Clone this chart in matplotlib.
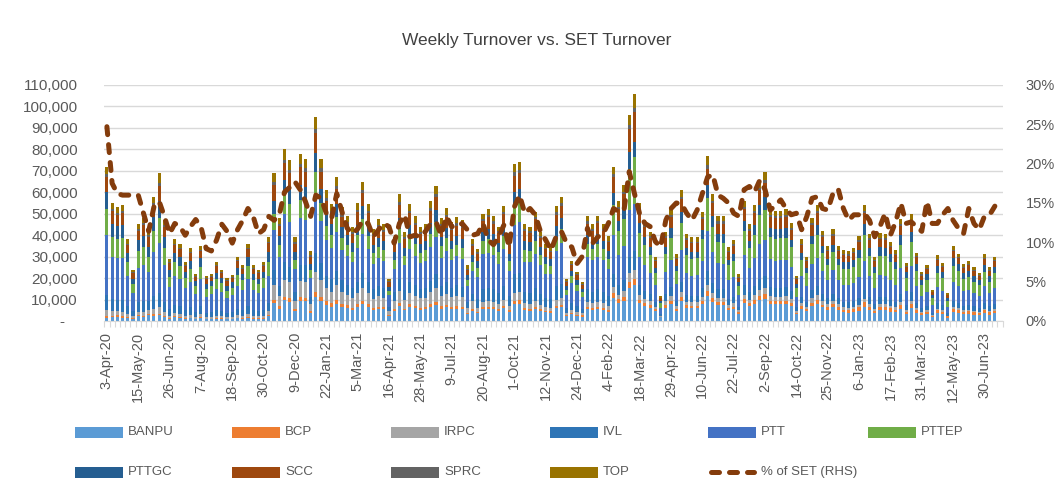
import numpy as np
import matplotlib
matplotlib.use("Agg")
import matplotlib.pyplot as plt
from matplotlib.patches import Rectangle
from matplotlib.lines import Line2D
from matplotlib.ticker import FuncFormatter

plt.rcParams['font.family'] = ['Liberation Sans', 'DejaVu Sans']

# weekly turnover per stock, in thousands
banpu = [1.5, 1.8, 2.0, 1.6, 1.5, 1.0, 2.2, 2.0, 3.0, 2.5, 2.6, 1.9, 1.0, 1.8, 1.4, 1.0, 1.3, 0.9, 1.5, 0.8, 0.9, 1.1, 1.0, 0.8, 0.9, 1.2, 1.0, 1.5, 1.0, 1.0, 1.1, 2.5,
         8.3, 5.8, 9.6, 9.0, 4.7, 9.4, 9.1, 3.9, 11.4, 9.1, 7.3, 6.6, 8.0, 6.4, 5.9, 5.3, 6.6, 7.8, 6.6, 5.2, 5.7, 5.4, 2.4, 4.7, 7.1, 5.0, 6.6, 5.9, 5.3, 5.4, 6.7, 7.6, 5.8, 6.3, 5.5, 5.8, 5.6, 3.1, 4.6,
         3.7, 5.5, 5.7, 5.4, 4.8, 5.9, 4.2, 8.0, 8.1, 5.0, 4.8, 5.6, 4.6, 4.0, 3.8, 5.9, 6.4, 2.2, 3.1, 2.5, 2.0, 5.4, 5.0, 5.4, 5.0, 4.3,
         10.8, 8.4, 9.5, 15.4, 16.6, 8.3, 7.1, 6.2, 4.5, 1.7, 6.2, 7.8, 4.7, 9.2, 6.1, 5.9, 5.9, 7.7, 11.6, 8.9, 7.3, 7.3, 5.2, 5.6, 3.3, 8.4, 6.8, 8.1, 9.8, 10.4, 7.8, 7.7, 7.7, 7.8, 6.9, 3.2, 5.7, 4.5, 7.2, 8.1, 6.3, 5.3, 6.4, 5.3,
         4.0, 3.9, 4.1, 4.8, 6.5, 4.9, 3.6, 4.9, 4.9, 4.4, 4.0, 5.7, 3.2, 6.0, 3.8, 2.7, 3.1, 1.7, 3.7, 3.2, 1.6, 4.2, 3.8, 3.2, 3.4, 3.0, 2.7, 3.7, 3.0, 3.6]
bcp = [0.7, 0.5, 0.6, 0.5, 0.4, 0.3, 0.4, 0.5, 0.4, 0.6, 0.7, 0.5, 0.3, 0.4, 0.4, 0.3, 0.3, 0.2, 0.4, 0.2, 0.2, 0.3, 0.3, 0.2, 0.2, 0.3, 0.3, 0.4, 0.3, 0.2, 0.3, 0.4,
       1.4, 1.0, 1.6, 1.5, 0.8, 1.6, 1.5, 0.7, 1.9, 2.3, 1.8, 1.6, 2.0, 1.6, 1.5, 0.9, 1.1, 1.3, 1.1, 0.9, 1.0, 0.9, 0.4, 0.8, 1.2, 0.8, 1.1, 1.0, 0.9, 0.9, 1.1, 1.3, 1.0, 1.1, 0.9, 1.0, 0.9, 0.5, 0.8,
       0.7, 1.0, 1.0, 1.0, 0.9, 1.1, 0.8, 1.5, 1.5, 0.9, 0.9, 1.0, 0.8, 0.7, 0.7, 1.1, 1.2, 0.4, 0.6, 0.5, 0.6, 1.0, 0.9, 1.0, 0.9, 0.8,
       2.2, 1.7, 1.9, 3.0, 3.2, 1.7, 1.4, 1.2, 0.9, 0.3, 1.2, 1.6, 0.9, 1.8, 1.2, 1.2, 1.2, 1.5, 2.3, 1.8, 1.5, 1.5, 1.0, 1.1, 0.7, 1.7, 1.4, 1.6, 2.0, 2.1, 1.6, 1.5, 1.5, 1.6, 1.4, 0.6, 1.1, 0.9, 1.4, 1.6, 1.3, 1.1, 1.3, 1.1,
       1.3, 1.3, 1.4, 1.6, 2.2, 1.6, 1.2, 1.6, 1.6, 1.5, 1.3, 1.9, 1.1, 2.0, 1.3, 0.9, 1.0, 0.6, 1.2, 1.1, 0.5, 1.4, 1.3, 1.1, 1.1, 1.0, 0.9, 1.2, 1.0, 1.2]
irpc = [2.9, 2.5, 2.0, 2.2, 1.5, 1.0, 1.8, 1.9, 1.7, 2.6, 3.0, 1.9, 1.2, 1.5, 1.4, 1.1, 1.4, 0.9, 1.4, 0.8, 0.9, 1.1, 1.0, 0.8, 0.9, 1.2, 1.0, 1.4, 1.0, 1.0, 1.1, 1.6,
        6.9, 4.8, 8.0, 7.5, 3.9, 7.8, 7.6, 3.3, 9.5, 7.6, 6.1, 5.5, 6.7, 5.3, 4.9, 4.4, 5.5, 6.5, 5.5, 4.3, 4.8, 4.5, 2.0, 3.9, 5.9, 4.2, 5.5, 4.9, 4.4, 4.5, 5.6, 6.3, 4.8, 5.3, 4.6, 4.8, 4.7, 2.6, 3.8,
        1.7, 2.5, 2.6, 2.4, 2.2, 2.7, 1.9, 3.7, 3.7, 2.3, 2.2, 2.6, 2.1, 1.8, 1.7, 2.7, 2.9, 1.0, 1.4, 1.2, 0.9, 2.4, 2.3, 2.5, 2.3, 2.0,
        2.9, 2.2, 2.5, 3.8, 4.2, 2.2, 1.9, 1.7, 1.2, 0.5, 1.7, 2.1, 1.2, 2.4, 1.6, 1.6, 1.6, 2.0, 3.1, 2.4, 2.0, 2.0, 1.4, 1.5, 0.9, 2.2, 1.8, 2.2, 2.6, 2.8, 2.1, 2.1, 2.1, 2.1, 1.8, 0.8, 1.5, 1.2, 1.9, 2.2, 1.7, 1.4, 1.7, 1.4,
        1.0, 1.0, 1.0, 1.2, 1.6, 1.2, 0.9, 1.2, 1.2, 1.1, 1.0, 1.4, 0.8, 1.5, 1.0, 0.7, 0.8, 0.4, 0.9, 0.8, 0.4, 1.1, 0.9, 0.8, 0.8, 0.8, 0.7, 0.9, 0.8, 0.9]
ivl = [7.2, 5.5, 5.3, 5.4, 3.8, 2.4, 4.5, 4.8, 4.2, 5.8, 6.9, 4.7, 2.9, 3.8, 3.6, 2.8, 3.4, 2.2, 3.5, 2.1, 2.2, 2.8, 2.4, 2.0, 2.2, 3.0, 2.6, 3.6, 2.6, 2.4, 2.8, 3.9,
       7.2, 4.5, 8.4, 7.1, 4.1, 7.5, 7.9, 3.1, 9.0, 8.0, 5.8, 5.8, 6.4, 5.6, 4.7, 4.6, 5.2, 6.8, 5.2, 4.5, 4.6, 4.7, 1.9, 4.1, 5.6, 4.4, 5.2, 5.1, 4.2, 4.7, 5.3, 6.6, 4.6, 5.5, 4.4, 5.0, 4.5, 2.7, 3.6,
       4.0, 6.0, 6.2, 5.9, 5.3, 6.4, 4.6, 8.8, 8.9, 5.4, 5.3, 6.1, 5.0, 4.3, 4.1, 6.4, 6.9, 2.4, 3.4, 2.8, 2.2, 5.9, 5.4, 5.9, 5.4, 4.7,
       5.8, 4.5, 5.1, 7.7, 8.5, 4.4, 3.8, 3.3, 2.4, 0.9, 3.3, 4.2, 2.5, 4.9, 3.3, 3.1, 3.1, 4.1, 6.2, 4.7, 3.9, 3.9, 2.8, 3.0, 1.7, 4.5, 3.6, 4.3, 5.2, 5.6, 4.2, 4.1, 4.1, 4.2, 3.7, 1.7, 3.0, 2.4, 3.8, 4.3, 3.4, 2.8, 3.4, 2.8,
       2.6, 2.6, 2.7, 3.2, 4.3, 3.3, 2.4, 3.3, 3.3, 2.9, 2.6, 3.8, 2.2, 4.0, 2.5, 1.8, 2.1, 1.1, 2.4, 2.2, 1.0, 2.8, 2.5, 2.1, 2.2, 2.0, 1.8, 2.5, 2.0, 2.4]
ptt = [27.6, 19.5, 19.5, 19.8, 13.8, 8.3, 16.0, 16.9, 13.6, 20.6, 23.3, 17.1, 10.3, 13.6, 12.7, 10.0, 12.0, 8.2, 12.6, 7.4, 8.2, 9.5, 8.7, 7.0, 7.7, 10.5, 9.6, 12.6, 9.6, 8.4, 10.0, 12.7,
       18.5, 13.8, 22.2, 21.0, 10.8, 21.7, 21.1, 9.0, 27.3, 19.6, 16.6, 14.6, 18.2, 14.1, 13.2, 12.3, 15.4, 18.1, 15.3, 11.9, 13.2, 12.5, 5.3, 10.8, 16.5, 11.5, 15.3, 13.5, 12.3, 12.5, 15.8, 17.4, 13.3, 14.5, 12.9, 13.5, 13.3, 7.3, 10.5,
       10.5, 16.4, 16.4, 15.9, 13.6, 17.5, 11.8, 22.6, 24.1, 13.8, 14.4, 15.9, 13.6, 11.2, 11.4, 16.6, 18.9, 5.9, 9.1, 6.9, 5.6, 15.2, 14.6, 15.1, 14.6, 12.3,
       18.2, 13.8, 16.0, 21.8, 21.9, 13.4, 11.8, 10.2, 7.6, 2.8, 10.5, 12.7, 7.8, 15.0, 10.4, 9.4, 9.7, 12.6, 18.7, 14.4, 12.2, 12.0, 8.6, 9.3, 5.4, 13.9, 11.2, 13.3, 16.5, 17.0, 13.1, 12.7, 13.0, 12.8, 11.4, 5.1, 9.7, 7.4, 12.2, 13.3, 10.5, 8.5, 10.8, 8.5,
       8.1, 8.1, 8.4, 9.7, 13.4, 10.1, 7.5, 10.3, 10.1, 9.3, 8.1, 11.9, 6.8, 12.3, 7.9, 5.7, 6.6, 3.7, 7.7, 6.8, 3.1, 8.6, 7.9, 6.7, 7.0, 6.1, 5.7, 7.8, 6.1, 7.5]
pttep = [12.2, 9.4, 9.0, 9.2, 6.5, 4.1, 7.7, 8.2, 7.1, 9.9, 11.7, 8.0, 4.9, 6.5, 6.1, 4.7, 5.8, 3.7, 6.0, 3.6, 3.7, 4.7, 4.1, 3.4, 3.7, 5.1, 4.4, 6.1, 4.4, 4.1, 4.7, 6.6,
         7.6, 5.3, 8.8, 8.3, 4.3, 8.6, 8.3, 3.6, 10.5, 8.3, 6.7, 6.0, 7.4, 5.8, 5.4, 4.8, 6.1, 7.2, 6.0, 4.7, 5.2, 5.0, 2.2, 4.3, 6.5, 4.6, 6.0, 5.4, 4.8, 5.0, 6.2, 6.9, 5.3, 5.8, 5.1, 5.3, 5.2, 2.9, 4.2,
         4.2, 5.8, 6.4, 5.7, 5.5, 6.2, 4.7, 9.0, 8.7, 5.6, 5.1, 6.3, 4.8, 4.5, 4.0, 6.6, 6.7, 2.5, 3.2, 2.9, 2.1, 6.0, 5.2, 6.1, 5.2, 4.9,
         14.4, 11.2, 12.7, 19.2, 22.0, 11.0, 9.4, 8.3, 6.0, 2.3, 8.3, 10.4, 6.2, 12.2, 8.1, 7.8, 7.8, 10.2, 15.4, 11.8, 9.8, 9.8, 6.9, 7.5, 4.3, 11.2, 9.0, 10.8, 13.1, 13.9, 10.4, 10.3, 10.3, 10.4, 9.1, 4.2, 7.6, 6.0, 9.6, 10.8, 8.4, 7.0, 8.5, 7.0,
         7.3, 7.2, 7.5, 8.7, 11.9, 9.0, 6.6, 9.0, 9.0, 8.1, 7.3, 10.5, 5.9, 10.9, 7.0, 5.0, 5.7, 3.1, 6.7, 5.9, 2.9, 7.7, 6.9, 5.9, 6.2, 5.5, 4.9, 6.8, 5.5, 6.6]
pttgc = [7.9, 6.1, 5.8, 5.9, 4.2, 2.6, 5.0, 5.3, 4.6, 6.4, 7.6, 5.2, 3.2, 4.2, 4.0, 3.0, 3.7, 2.4, 3.9, 2.3, 2.4, 3.0, 2.6, 2.2, 2.4, 3.3, 2.9, 4.0, 2.9, 2.6, 3.0, 4.3,
         6.2, 4.3, 7.2, 6.8, 3.5, 7.0, 6.8, 2.9, 8.6, 6.8, 5.5, 4.9, 6.0, 4.8, 4.4, 4.0, 5.0, 5.9, 4.9, 3.9, 4.3, 4.1, 1.8, 3.5, 5.3, 3.7, 4.9, 4.4, 4.0, 4.1, 5.0, 5.7, 4.3, 4.7, 4.1, 4.4, 4.2, 2.3, 3.4,
         3.0, 4.5, 4.7, 4.4, 4.0, 4.8, 3.4, 6.6, 6.7, 4.1, 4.0, 4.6, 3.7, 3.2, 3.1, 4.8, 5.2, 1.8, 2.5, 2.1, 1.6, 4.4, 4.1, 4.4, 4.1, 3.5,
         5.5, 4.7, 4.9, 7.9, 7.0, 4.6, 3.6, 3.5, 2.3, 1.0, 3.2, 4.4, 2.4, 5.1, 3.1, 3.3, 3.0, 4.2, 6.0, 4.9, 3.8, 4.0, 2.7, 3.1, 1.7, 4.6, 3.5, 4.5, 5.1, 5.8, 4.0, 4.3, 4.0, 4.3, 3.6, 1.8, 2.9, 2.5, 3.7, 4.5, 3.3, 2.9, 3.3, 2.9,
         3.3, 3.3, 3.4, 4.0, 5.4, 4.1, 3.0, 4.1, 4.1, 3.7, 3.3, 4.8, 2.7, 5.0, 3.2, 2.3, 2.6, 1.4, 3.1, 2.7, 1.3, 3.5, 3.1, 2.7, 2.8, 2.5, 2.2, 3.1, 2.5, 3.0]
scc = [7.0, 5.8, 5.0, 5.6, 3.6, 2.6, 4.2, 5.0, 4.5, 5.5, 7.3, 4.4, 3.1, 3.5, 3.9, 2.6, 3.7, 2.0, 3.2, 2.3, 2.0, 3.0, 2.2, 2.2, 2.0, 3.3, 2.4, 3.9, 2.4, 2.6, 2.5, 4.2,
       7.4, 4.6, 7.8, 7.8, 3.8, 8.1, 7.3, 3.4, 9.2, 7.9, 6.3, 5.3, 7.0, 5.1, 5.1, 4.2, 5.7, 6.2, 5.7, 4.1, 5.0, 4.3, 2.1, 3.8, 6.2, 4.0, 5.7, 4.7, 4.6, 4.3, 5.8, 6.1, 5.0, 5.1, 4.8, 4.7, 4.9, 2.5, 4.0,
       3.5, 4.8, 5.4, 4.7, 4.6, 5.2, 3.9, 7.6, 7.1, 4.7, 4.2, 5.3, 4.0, 3.8, 3.3, 5.5, 5.5, 2.1, 2.7, 2.4, 1.7, 5.1, 4.3, 5.1, 4.3, 4.1,
       7.2, 5.6, 6.4, 10.5, 14.0, 5.5, 4.7, 4.2, 3.0, 1.2, 4.2, 5.2, 3.1, 6.1, 4.1, 3.9, 3.9, 5.1, 7.7, 5.9, 4.9, 4.9, 3.5, 3.8, 2.2, 5.6, 4.5, 5.4, 6.6, 6.9, 5.2, 5.2, 5.2, 5.2, 4.6, 2.1, 3.8, 3.0, 4.8, 5.4, 4.2, 3.5, 4.3, 3.5,
       3.0, 2.9, 3.1, 3.6, 4.9, 3.7, 2.7, 3.7, 3.7, 3.3, 3.0, 4.3, 2.4, 4.5, 2.9, 2.1, 2.3, 1.3, 2.8, 2.4, 1.2, 3.2, 2.8, 2.4, 2.5, 2.3, 2.0, 2.8, 2.3, 2.7]
sprc = [1.4, 1.1, 1.1, 1.1, 0.8, 0.5, 0.9, 1.0, 0.8, 1.2, 1.4, 0.9, 0.6, 0.8, 0.7, 0.6, 0.7, 0.4, 0.7, 0.4, 0.4, 0.6, 0.5, 0.4, 0.4, 0.6, 0.5, 0.7, 0.5, 0.5, 0.6, 0.8,
        1.4, 1.0, 1.6, 1.5, 0.8, 1.6, 1.5, 0.7, 1.9, 1.5, 1.2, 1.1, 1.3, 1.1, 1.0, 0.9, 1.1, 1.3, 1.1, 0.9, 1.0, 0.9, 0.4, 0.8, 1.2, 0.8, 1.1, 1.0, 0.9, 0.9, 1.1, 1.3, 1.0, 1.1, 0.9, 1.0, 0.9, 0.5, 0.8,
        0.7, 1.0, 1.0, 1.0, 0.9, 1.1, 0.8, 1.5, 1.5, 0.9, 0.9, 1.0, 0.8, 0.7, 0.7, 1.1, 1.2, 0.4, 0.6, 0.5, 0.4, 1.0, 0.9, 1.0, 0.9, 0.8,
        1.4, 1.1, 1.3, 1.9, 2.1, 1.1, 0.9, 0.8, 0.6, 0.2, 0.8, 1.0, 0.6, 1.2, 0.8, 0.8, 0.8, 1.0, 1.5, 1.2, 1.0, 1.0, 0.7, 0.8, 0.4, 1.1, 0.9, 1.1, 1.3, 1.4, 1.0, 1.0, 1.0, 1.0, 0.9, 0.4, 0.8, 0.6, 1.0, 1.1, 0.8, 0.7, 0.9, 0.7,
        0.7, 0.7, 0.7, 0.8, 1.1, 0.8, 0.6, 0.8, 0.8, 0.7, 0.7, 1.0, 0.5, 1.0, 0.6, 0.5, 0.5, 0.3, 0.6, 0.5, 0.3, 0.7, 0.6, 0.5, 0.6, 0.5, 0.4, 0.6, 0.5, 0.6]
top = [3.6, 2.8, 2.7, 2.7, 1.9, 1.2, 2.3, 2.4, 2.1, 2.9, 4.5, 2.4, 1.5, 1.9, 1.8, 1.4, 1.7, 1.1, 1.8, 1.1, 1.1, 1.4, 1.2, 1.0, 1.1, 1.5, 1.3, 1.8, 1.3, 1.2, 1.4, 2.0,
       4.1, 2.9, 4.8, 4.5, 2.3, 4.7, 4.5, 2.0, 5.7, 4.5, 3.7, 3.3, 4.0, 3.2, 2.9, 2.6, 3.3, 3.9, 3.3, 2.6, 2.9, 2.7, 1.2, 2.3, 3.5, 2.5, 3.3, 2.9, 2.6, 2.7, 3.4, 3.8, 2.9, 3.2, 2.8, 2.9, 2.8, 1.6, 2.3,
       1.7, 2.5, 2.6, 2.4, 2.2, 2.7, 1.9, 3.7, 3.7, 2.3, 2.2, 2.6, 2.1, 1.8, 1.7, 2.7, 2.9, 1.0, 1.4, 1.2, 0.9, 2.4, 2.3, 2.5, 2.3, 2.0,
       3.6, 2.8, 3.2, 4.8, 6.5, 2.8, 2.4, 2.1, 1.5, 0.6, 2.1, 2.6, 1.6, 3.1, 2.0, 2.0, 2.0, 2.6, 4.5, 3.0, 2.4, 2.4, 1.7, 1.9, 1.1, 2.8, 2.3, 2.7, 3.3, 3.5, 2.6, 2.6, 2.6, 2.6, 2.3, 1.1, 1.9, 1.5, 2.4, 2.7, 2.1, 1.8, 2.1, 1.8,
       1.7, 1.6, 1.7, 2.0, 2.7, 2.0, 1.5, 2.1, 2.0, 1.8, 1.7, 2.4, 1.4, 2.5, 1.6, 1.1, 1.3, 0.7, 1.5, 1.4, 0.7, 1.8, 1.6, 1.3, 1.4, 1.3, 1.1, 1.6, 1.3, 1.5]

# % of SET turnover (RHS), in %
pct_set = [24.7, 17.5, 16.2, 16.0, 16.0, 16.0, 16.0, 13.7, 11.4, 14.5,
           15.2, 13.3, 11.1, 12.4, 12.0, 10.9, 12.0, 12.9, 12.0, 9.2,
           8.9, 10.3, 12.3, 11.4, 9.9, 11.6, 12.8, 14.3, 13.3, 11.1,
           11.6, 13.3, 12.8, 13.5, 16.4, 17.0, 17.7, 16.7, 15.2, 13.3,
           16.0, 15.6, 13.7, 13.0, 16.2, 13.9, 11.8, 11.1, 11.7, 12.8,
           12.4, 10.7, 11.6, 12.4, 12.0, 9.9, 12.4, 13.5, 10.7, 10.9,
           10.7, 11.4, 12.4, 12.6, 10.9, 13.3, 12.0, 12.0, 12.4, 11.6,
           10.9, 11.1, 12.4, 10.3, 9.7, 10.7, 12.2, 9.4, 14.5, 16.0,
           13.7, 14.3, 13.5, 11.4, 10.3, 9.0, 10.7, 11.4, 9.9, 9.4,
           7.3, 8.2, 11.8, 9.9, 10.7, 11.1, 12.4, 14.3, 13.9, 14.1,
           19.0, 16.2, 13.6, 12.4, 12.0, 10.1, 9.4, 12.8, 14.3, 15.0,
           14.9, 13.7, 12.8, 14.1, 16.2, 18.3, 18.6, 16.0, 15.6, 15.0,
           13.7, 13.3, 16.7, 17.1, 16.4, 17.9, 16.7, 14.1, 14.7, 15.4,
           14.3, 13.5, 13.7, 11.6, 13.3, 15.6, 15.8, 14.3, 14.1, 16.2,
           16.8, 14.3, 12.8, 13.5, 13.5, 13.7, 12.8, 10.7, 12.0, 13.7,
           10.9, 12.6, 15.0, 12.4, 12.6, 12.0, 11.4, 15.2, 12.4, 12.4,
           13.5, 14.3, 12.8, 11.8, 11.1, 14.3, 12.4, 11.6, 13.3, 13.5,
           14.6]

tick_labels = ['3-Apr-20', '15-May-20', '26-Jun-20', '7-Aug-20', '18-Sep-20', '30-Oct-20',
               '9-Dec-20', '22-Jan-21', '5-Mar-21', '16-Apr-21', '28-May-21', '9-Jul-21',
               '20-Aug-21', '1-Oct-21', '12-Nov-21', '24-Dec-21', '4-Feb-22', '18-Mar-22',
               '29-Apr-22', '10-Jun-22', '22-Jul-22', '2-Sep-22', '14-Oct-22', '25-Nov-22',
               '6-Jan-23', '17-Feb-23', '31-Mar-23', '12-May-23', '30-Jun-23']

names = ['BANPU', 'BCP', 'IRPC', 'IVL', 'PTT', 'PTTEP', 'PTTGC', 'SCC', 'SPRC', 'TOP']
series = [banpu, bcp, irpc, ivl, ptt, pttep, pttgc, scc, sprc, top]
colors = ['#5B9BD5', '#ED7D31', '#A5A5A5', '#2E75B6', '#4472C4', '#70AD47',
          '#255E91', '#9E480E', '#636363', '#997300']
line_color = '#843C0C'
txt = '#595959'
grid = '#D9D9D9'
dash = (0, (1.6, 2.0))

W, H = 1057, 497
fig = plt.figure(figsize=(W / 100, H / 100), dpi=100)
ax = fig.add_axes([104.3 / W, 1 - 321 / H, 898.4 / W, 236 / H])

x = np.arange(len(ptt))
bottom = np.zeros(len(ptt))
for vals, c in zip(series, colors):
    v = np.array(vals) * 1000
    ax.bar(x, v, width=0.6, bottom=bottom, color=c, linewidth=0)
    bottom += v

ax.set_xlim(-0.5, 171.5)
ax.set_ylim(0, 110000)
ax.set_yticks(np.arange(0, 110001, 10000))
ax.yaxis.set_major_formatter(FuncFormatter(lambda v, p: '-   ' if v == 0 else f'{v:,.0f}'))
ax.grid(axis='y', color=grid, linewidth=1)
ax.set_axisbelow(True)
for s in ['top', 'right', 'left']:
    ax.spines[s].set_visible(False)
ax.spines['bottom'].set_color(grid)
ax.tick_params(axis='y', length=0, pad=19, labelsize=11, labelcolor=txt)

ax.set_xticks(np.arange(0, len(tick_labels) * 6, 6))
ax.set_xticklabels(tick_labels, rotation=90)
ax.set_xticks(np.arange(-0.5, 172, 1), minor=True)
ax.tick_params(axis='x', which='major', length=0, pad=8, labelsize=10.5, labelcolor=txt)
ax.tick_params(axis='x', which='minor', length=4, color=grid, width=0.8)

ax2 = ax.twinx()
ax2.plot(x, np.array(pct_set) / 100, color=line_color, linewidth=3.6,
         linestyle=dash, dash_capstyle='round')
ax2.set_ylim(0, 0.30)
ax2.set_yticks(np.arange(0, 0.301, 0.05))
ax2.yaxis.set_major_formatter(FuncFormatter(lambda v, p: f'{v*100:.0f}%'))
for s in ['top', 'right', 'left', 'bottom']:
    ax2.spines[s].set_visible(False)
ax2.tick_params(axis='y', length=0, pad=16.5, labelsize=10.5, labelcolor=txt)

fig.text(537 / W, 1 - 40 / H, 'Weekly Turnover vs. SET Turnover', ha='center', va='center',
         fontsize=12.5, color='#404040')

# legend, two rows of six
col_x = [75, 232, 391, 550, 708, 868]
row_y = [432, 472]
items = [(n, c) for n, c in zip(names, colors)] + [('% of SET (RHS)', None)]
for k, (name, c) in enumerate(items):
    r, cc = divmod(k, 6)
    x0 = col_x[cc] / W
    y0 = 1 - row_y[r] / H
    if c is not None:
        fig.add_artist(Rectangle((x0, y0 - 5.5 / H), 48 / W, 11 / H, transform=fig.transFigure,
                                 facecolor=c, edgecolor='none'))
    else:
        fig.add_artist(Line2D([x0 + 3 / W, x0 + 46 / W], [y0, y0], transform=fig.transFigure,
                              color=line_color, linewidth=3.6, linestyle=dash,
                              dash_capstyle='round'))
    fig.text(x0 + 53 / W, y0, name, ha='left', va='center', fontsize=9.5, color=txt)

fig.savefig('out.png', dpi=100)
